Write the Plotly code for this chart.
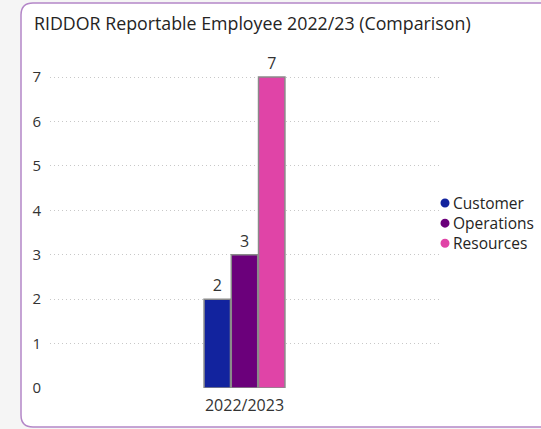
import plotly.graph_objects as go

categories = ["2022/2023"]
series_names = ["Customer", "Operations", "Resources"]
series_values = [[2], [3], [7]]
series_colors = ["#12239e", "#6b007b", "#e044a7"]
y_ticks = [0, 1, 2, 3, 4, 5, 6, 7]
title_text = "RIDDOR Reportable Employee 2022/23 (Comparison)"

W, H = 541, 429
L, R, T, B = 50, 439, 70, 388  # plot area in pixels
FONT = "Open Sans, Noto Sans, sans-serif"
LEG_FS = 15.5
LEG_STEP = LEG_FS * 1.3
LEG_Y0 = 203


def px_x(p):
    return (p - L) / (R - L)


def px_y(p):
    return (B - p) / (B - T)


fig = go.Figure()
for name, vals, col in zip(series_names, series_values, series_colors):
    fig.add_trace(go.Bar(
        x=categories, y=vals, name=name,
        marker=dict(color=col, line=dict(color="#8a8a8a", width=1.5)),
        text=[str(v) for v in vals], textposition="outside",
        textfont=dict(family=FONT, size=16, color="#333333"),
        cliponaxis=False, showlegend=False,
    ))

# card background with rounded corners
x0, x1 = px_x(21), px_x(560)
y0, y1 = px_y(427), px_y(3)
rx = 12 / (R - L)
ry = 12 / (B - T)
path = (f"M {x0+rx},{y1} L {x1},{y1} L {x1},{y0} L {x0+rx},{y0} "
        f"Q {x0},{y0} {x0},{y0+ry} L {x0},{y1-ry} Q {x0},{y1} {x0+rx},{y1} Z")
fig.add_shape(type="path", path=path, xref="paper", yref="paper",
              fillcolor="white", line=dict(color="#b487c8", width=1.5), layer="below")

# legend: circle markers + one multi-line text block
r_px = 4.5
for i, col in enumerate(series_colors):
    ly = LEG_Y0 + i * LEG_STEP
    fig.add_shape(type="circle", xref="paper", yref="paper",
                  x0=px_x(445 - r_px), x1=px_x(445 + r_px),
                  y0=px_y(ly + r_px), y1=px_y(ly - r_px),
                  fillcolor=col, line=dict(width=0))
fig.add_annotation(
    x=px_x(451), y=px_y(LEG_Y0 + LEG_STEP), xref="paper", yref="paper",
    xanchor="left", yanchor="middle", align="left", showarrow=False,
    text="<br>".join(series_names),
    font=dict(family=FONT, size=LEG_FS, color="#252423"),
)

fig.update_layout(
    width=W, height=H,
    margin=dict(l=L, r=W - R, t=T, b=H - B, pad=0),
    paper_bgcolor="#f5f5f5",
    plot_bgcolor="rgba(0,0,0,0)",
    barmode="group", bargap=0.79, bargroupgap=0.03,
    title=dict(text=title_text, x=34 / W, xanchor="left", y=1 - 24 / H, yanchor="middle",
               font=dict(family=FONT, size=17.8, color="#252423")),
    xaxis=dict(showgrid=False, showline=False, zeroline=False, ticks="",
               ticklabelstandoff=6,
               tickfont=dict(family=FONT, size=16, color="#333333")),
    yaxis=dict(range=[0, 7.16], tickvals=y_ticks, showline=False, zeroline=False,
               showgrid=True, gridcolor="#c8c8c8", griddash="1px,3px", gridwidth=1,
               ticks="", ticklabelstandoff=8,
               tickfont=dict(family=FONT, size=15, color="#333333")),
    showlegend=False,
)

fig.write_html(
    "out.html",
    config={"displayModeBar": False},
    post_script="document.body.style.margin='0';document.body.style.background='#f5f5f5';",
)
